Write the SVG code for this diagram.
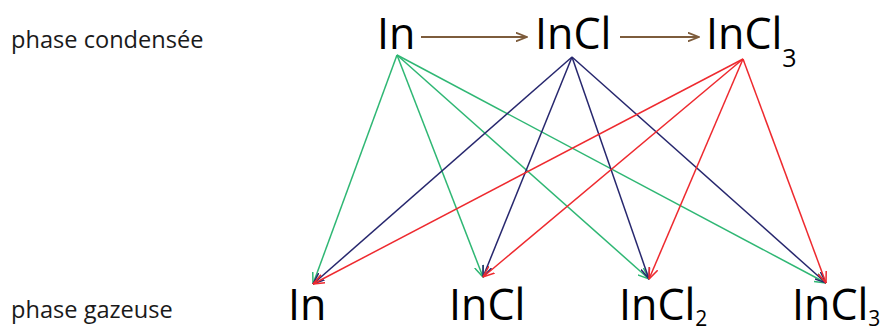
<svg xmlns="http://www.w3.org/2000/svg" width="882" height="333" viewBox="0 0 882 333">
<style>
.lbl{font-family:"Open Sans","Noto Sans","Liberation Sans",sans-serif;font-size:23.6px;fill:#1a1a1a}
.big{font-family:"Open Sans","Noto Sans","Liberation Sans",sans-serif;font-size:43px;fill:#000}
.sub{font-size:25px}
.sub2{font-size:21px}
.g{stroke:#2fb774;fill:none;stroke-width:1.5}
.b{stroke:#27276e;fill:none;stroke-width:1.5}
.r{stroke:#ee2a2f;fill:none;stroke-width:1.5}
.br{stroke:#7d5c3c;fill:none;stroke-width:1.8}
</style>
<defs>
<marker id="mg" viewBox="0 0 12 10" refX="11.5" refY="5" markerWidth="12" markerHeight="10" markerUnits="userSpaceOnUse" orient="auto"><path d="M0,0.5 L11.5,5 L0,9.5" fill="none" stroke="#2fb774" stroke-width="1.5"/></marker>
<marker id="mb" viewBox="0 0 12 10" refX="11.5" refY="5" markerWidth="12" markerHeight="10" markerUnits="userSpaceOnUse" orient="auto"><path d="M0,0.5 L11.5,5 L0,9.5" fill="none" stroke="#27276e" stroke-width="1.5"/></marker>
<marker id="mr" viewBox="0 0 12 10" refX="11.5" refY="5" markerWidth="12" markerHeight="10" markerUnits="userSpaceOnUse" orient="auto"><path d="M0,0.5 L11.5,5 L0,9.5" fill="none" stroke="#ee2a2f" stroke-width="1.5"/></marker>
<marker id="mbr" viewBox="0 0 12 10" refX="11.5" refY="5" markerWidth="12" markerHeight="10" markerUnits="userSpaceOnUse" orient="auto"><path d="M0,0.5 L11.5,5 L0,9.5" fill="none" stroke="#7d5c3c" stroke-width="1.8"/></marker>
</defs>
<g id="labels">
<text class="lbl" x="11" y="48">phase condensée</text>
<text class="lbl" x="11" y="318">phase gazeuse</text>
</g>
<g id="c-In"><text class="big" x="377" y="49">In</text></g>
<g id="c-InCl"><text class="big" x="535" y="49">InCl</text></g>
<g id="c-InCl3"><text class="big" x="706" y="49">InCl<tspan class="sub" dy="18">3</tspan></text></g>
<g id="g-In"><text class="big" x="288" y="320">In</text></g>
<g id="g-InCl"><text class="big" x="449" y="320">InCl</text></g>
<g id="g-InCl2"><text class="big" x="619" y="320">InCl<tspan class="sub2" dy="6">2</tspan></text></g>
<g id="g-InCl3"><text class="big" x="792" y="320">InCl<tspan class="sub2" dy="6">3</tspan></text></g>
<g id="connectors">
<line class="br" x1="421" y1="37" x2="527" y2="37" marker-end="url(#mbr)"/>
<line class="br" x1="620" y1="37" x2="699" y2="37" marker-end="url(#mbr)"/>
<line class="g" x1="397" y1="55" x2="313" y2="284" marker-end="url(#mg)"/>
<line class="g" x1="397" y1="55" x2="483" y2="277" marker-end="url(#mg)"/>
<line class="g" x1="397" y1="55" x2="649" y2="279" marker-end="url(#mg)"/>
<line class="g" x1="397" y1="55" x2="826" y2="283" marker-end="url(#mg)"/>
<line class="b" x1="572" y1="57" x2="313" y2="284" marker-end="url(#mb)"/>
<line class="b" x1="572" y1="57" x2="483" y2="277" marker-end="url(#mb)"/>
<line class="b" x1="572" y1="57" x2="649" y2="279" marker-end="url(#mb)"/>
<line class="b" x1="572" y1="57" x2="826" y2="283" marker-end="url(#mb)"/>
<line class="r" x1="743" y1="59" x2="313" y2="284" marker-end="url(#mr)"/>
<line class="r" x1="743" y1="59" x2="483" y2="277" marker-end="url(#mr)"/>
<line class="r" x1="743" y1="59" x2="649" y2="279" marker-end="url(#mr)"/>
<line class="r" x1="743" y1="59" x2="826" y2="283" marker-end="url(#mr)"/>
</g>
</svg>
